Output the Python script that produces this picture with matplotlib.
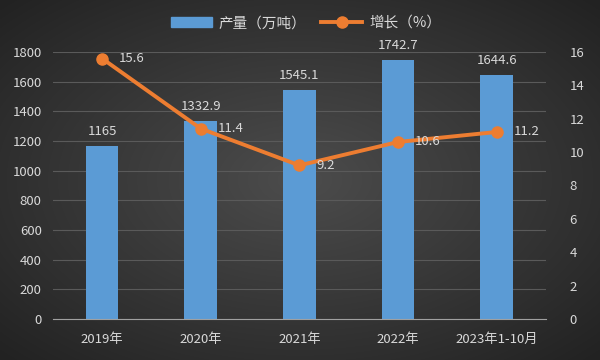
import numpy as np
import matplotlib
matplotlib.use('Agg')
import matplotlib.pyplot as plt
from matplotlib.lines import Line2D
from matplotlib.patches import Patch

plt.rcParams['font.family'] = ['Noto Sans CJK SC', 'DejaVu Sans']

years = ['2019年', '2020年', '2021年', '2022年', '2023年1-10月']
output = [1165, 1332.9, 1545.1, 1742.7, 1644.6]
growth = [15.6, 11.4, 9.2, 10.6, 11.2]

txt = '#d9d9d9'

fig = plt.figure(figsize=(6, 3.6), dpi=100)

# dark radial background
bg = fig.add_axes([0, 0, 1, 1], zorder=-10)
yy, xx = np.mgrid[-1:1:360j, -1:1:600j]
r = np.sqrt(xx ** 2 + yy ** 2) / np.sqrt(2)
bg.imshow(r, cmap=matplotlib.colors.LinearSegmentedColormap.from_list('g', ['#4c4c4c', '#222222']),
          aspect='auto', extent=[0, 1, 0, 1])
bg.axis('off')

ax = fig.add_axes([0.088, 0.114, 0.822, 0.742])
ax.set_facecolor('none')
x = np.arange(len(years))
ax.bar(x, output, width=0.33, color='#5b9bd5', zorder=2)
for xi, v in zip(x, output):
    ax.text(xi, v + 55, f'{v:g}', ha='center', va='bottom', color=txt, fontsize=9.5)

ax.set_xlim(-0.5, len(years) - 0.5)
ax.set_ylim(0, 1800)
ax.set_yticks(range(0, 1801, 200))
ax.grid(axis='y', color='#5a5a5a', linewidth=0.8, zorder=0)
ax.tick_params(colors=txt, labelsize=9.5, length=0)
ax.tick_params(axis='y', pad=8)
ax.tick_params(axis='x', pad=10)
ax.set_xticks(x)
ax.set_xticklabels(years)
for s in ['top', 'right', 'left']:
    ax.spines[s].set_visible(False)
ax.spines['bottom'].set_color('#a0a0a0')

ax2 = ax.twinx()
ax2.plot(x, growth, color='#ed7d31', linewidth=2.8, marker='o', markersize=8, zorder=3)
for xi, v in zip(x, growth):
    ax2.text(xi + 0.17, v, f'{v:g}', ha='left', va='center', color=txt, fontsize=9.5)
ax2.set_ylim(0, 16)
ax2.set_yticks(range(0, 17, 2))
ax2.tick_params(colors=txt, labelsize=9.5, length=0, pad=17)
for s in ax2.spines.values():
    s.set_visible(False)

handles = [Patch(color='#5b9bd5', label='产量（万吨）'),
           Line2D([], [], color='#ed7d31', linewidth=2.8, marker='o', markersize=8, label='增长（%）')]
fig.legend(handles=handles, loc='center', bbox_to_anchor=(0.51, 0.935), ncol=2, frameon=False,
           labelcolor=txt, fontsize=10.5, handlelength=2.8, columnspacing=1.0, handletextpad=0.5)

fig.savefig('out.png', dpi=100, facecolor='#303030')
